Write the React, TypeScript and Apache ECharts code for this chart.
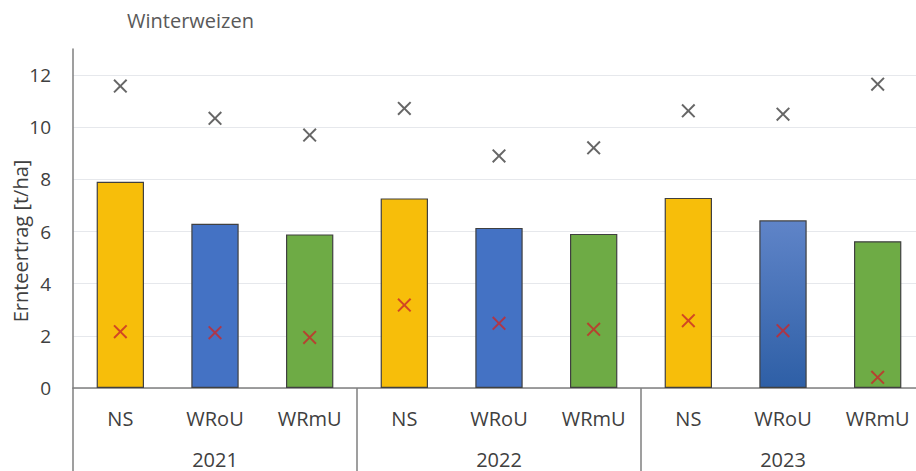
import React, { useEffect, useRef } from "react";
import * as echarts from "echarts";

const treatments = ["NS", "WRoU", "WRmU", "NS", "WRoU", "WRmU", "NS", "WRoU", "WRmU"];
const years = ["2021", "2022", "2023"];
const meanYield = [7.91, 6.3, 5.89, 7.27, 6.14, 5.91, 7.29, 6.43, 5.63];
const maxYield = [11.58, 10.34, 9.7, 10.72, 8.9, 9.21, 10.63, 10.5, 11.65];
const minYield = [2.16, 2.12, 1.94, 3.18, 2.48, 2.25, 2.58, 2.2, 0.41];
const yTicks = { min: 0, max: 13, interval: 2 };

const colorOf: Record<string, any> = {
  NS: "#F7BE0A",
  WRoU: "#4472C4",
  WRmU: "#6EAB45",
};

const FONT = "'Open Sans', sans-serif";
const CROSS = "path://M0,1L1,0L5,4L9,0L10,1L6,5L10,9L9,10L5,6L1,10L0,9L4,5Z";

export default function App() {
  const ref = useRef<HTMLDivElement>(null);
  useEffect(() => {
    document.body.style.margin = "0";
    const chart = echarts.init(ref.current!, null, { renderer: "svg" });
    const barData = meanYield.map((v, i) => {
      const t = treatments[i];
      let color: any = colorOf[t];
      if (i === 7) {
        color = new echarts.graphic.LinearGradient(0, 0, 0, 1, [
          { offset: 0, color: "#5F84C8" },
          { offset: 1, color: "#2E5FA6" },
        ]);
      }
      return { value: v, itemStyle: { color } };
    });
    chart.setOption({
      animation: false,
      backgroundColor: "#FFFFFF",
      title: {
        text: "Winterweizen",
        left: 127,
        top: 10,
        padding: 0,
        textStyle: { fontFamily: FONT, fontSize: 20, fontWeight: "normal", color: "#595959" },
      },
      grid: { left: 73, width: 852, top: 49, bottom: 83, containLabel: false, outerBoundsMode: "none" },
      xAxis: [
        {
          type: "category",
          data: treatments,
          position: "bottom",
          axisLine: { show: true, lineStyle: { color: "#7F7F7F", width: 1.5 } },
          axisTick: { show: false },
          axisLabel: { margin: 20, fontFamily: FONT, fontSize: 20, color: "#404040", interval: 0 },
          splitLine: { show: false },
        },
        {
          type: "category",
          data: years,
          position: "bottom",
          axisLine: { show: false },
          axisTick: { show: true, length: 90, interval: 0, lineStyle: { color: "#7F7F7F", width: 1.5 } },
          axisLabel: { margin: 61, fontFamily: FONT, fontSize: 20, color: "#404040", interval: 0 },
          splitLine: { show: false },
        },
      ],
      yAxis: {
        type: "value",
        min: yTicks.min,
        max: yTicks.max,
        interval: yTicks.interval,
        axisLine: { show: true, lineStyle: { color: "#7F7F7F", width: 1.5 } },
        axisTick: { show: false },
        axisLabel: { margin: 22, fontFamily: FONT, fontSize: 19, color: "#404040", showMaxLabel: false },
        splitLine: { show: true, showMaxLine: false, lineStyle: { color: "#E6E8EC", width: 1 } },
      },
      graphic: [
        {
          type: "text",
          x: 20,
          y: 241,
          rotation: Math.PI / 2,
          style: {
            text: "Ernteertrag [t/ha]",
            fontFamily: FONT,
            fontSize: 20,
            fill: "#404040",
            align: "center",
            verticalAlign: "middle",
          },
        },
      ],
      series: [
        {
          type: "bar",
          xAxisIndex: 0,
          data: barData,
          barWidth: "50%",
          itemStyle: { borderColor: "#404040", borderWidth: 1.2 },
        },
        {
          type: "scatter",
          xAxisIndex: 0,
          data: maxYield,
          symbol: CROSS,
          symbolSize: 14,
          itemStyle: { color: "#404040" },
          z: 5,
        },
        {
          type: "scatter",
          xAxisIndex: 0,
          data: minYield,
          symbol: CROSS,
          symbolSize: 14,
          itemStyle: { color: "#C8282A" },
          z: 5,
        },
      ],
    });
    return () => chart.dispose();
  }, []);
  return <div ref={ref} style={{ width: 916, height: 471 }} />;
}
